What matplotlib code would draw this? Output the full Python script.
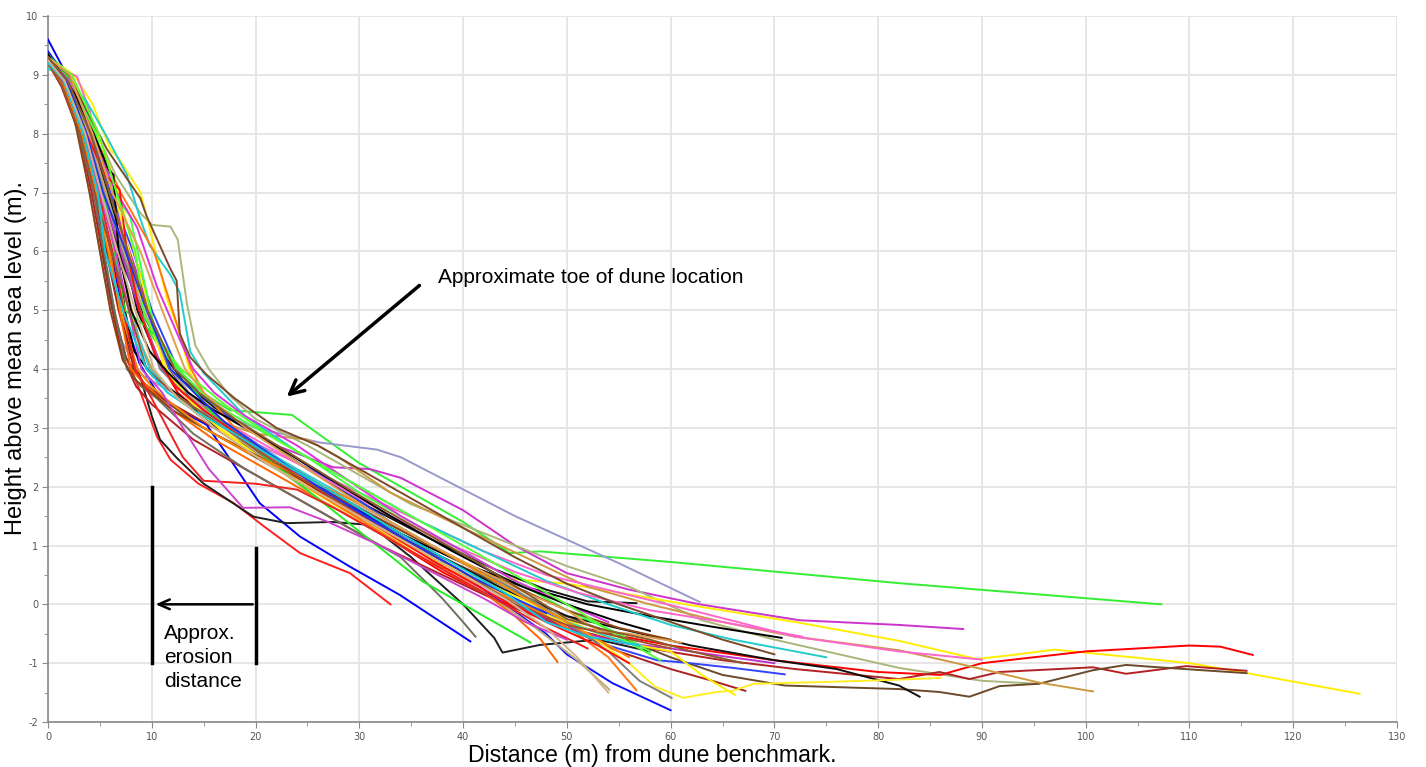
import matplotlib
matplotlib.use("Agg")
import matplotlib.pyplot as plt
from matplotlib.ticker import MultipleLocator

plt.rcParams['axes.unicode_minus'] = False

# ---------------- data: beach profiles (distance m, height m) ----------------
dist_01 = [0, 1.5, 3.2, 4.5, 5.5, 6.5, 7.5, 8.8, 10.5, 12.7, 15.3, 17.8, 20.4, 24.3, 29.1, 33.9, 40.7]
elev_01 = [9.6, 9.1, 8.3, 7.4, 6.5, 5.6, 4.8, 4.1, 3.6, 3.3, 3.05, 2.4, 1.72, 1.15, 0.64, 0.16, -0.63]
dist_02 = [0, 1.5, 3, 4.5, 5.5, 6.5, 7.5, 8.6, 10.5, 11.8, 14.5, 17.9, 21, 24.3, 29.1, 33]
elev_02 = [9.2, 8.8, 8.1, 6.9, 5.8, 4.9, 4.2, 3.75, 2.85, 2.46, 2.05, 1.72, 1.3, 0.87, 0.53, 0.0]
dist_03 = [0, 2, 3.8, 5, 6.3, 7.5, 9, 10, 10.8, 12.4, 15, 19.8, 23, 27.4, 31, 35, 40, 43, 43.8, 47.4, 53, 58]
elev_03 = [9.25, 8.6, 7.6, 6.6, 5.5, 4.6, 3.8, 3.2, 2.8, 2.49, 2.05, 1.49, 1.38, 1.4, 1.35, 0.8, 0.0, -0.57, -0.82, -0.69, -0.6, -0.8]
dist_04 = [0, 1.5, 4, 6, 7.5, 8.5, 9.5, 11, 14, 17.5, 23.5, 30, 34, 40, 44.5, 47.4, 60, 82, 107.3]
elev_04 = [9.35, 9.1, 8.2, 7.2, 6.0, 5.2, 4.7, 4.3, 3.7, 3.3, 3.22, 2.4, 2.0, 1.4, 0.87, 0.9, 0.72, 0.36, 0.0]
dist_05 = [0, 2, 3.2, 4.5, 5.5, 7, 9, 13, 20, 26.2, 31.7, 34, 45, 55, 62.8]
elev_05 = [9.3, 8.6, 7.8, 6.5, 5.5, 4.5, 3.9, 3.5, 3.0, 2.75, 2.63, 2.5, 1.5, 0.7, 0.04]
dist_06 = [0, 2, 4, 6, 7.5, 9, 10.5, 12.5, 15, 18, 22, 27.5, 31, 34, 40, 45, 50, 56, 62.8, 72.4, 82, 88.2]
elev_06 = [9.3, 8.8, 8.0, 7.0, 6.2, 5.4, 4.6, 4.0, 3.5, 3.1, 2.7, 2.33, 2.3, 2.15, 1.6, 1.0, 0.53, 0.25, 0.0, -0.27, -0.35, -0.42]
dist_07 = [0, 2, 4.5, 6.5, 8.9, 10, 11.8, 12.5, 13.4, 14.2, 15.5, 17.5, 20, 25, 30, 35, 40, 45, 50, 56, 63, 70, 82, 90, 95.5]
elev_07 = [9.3, 9.0, 8.1, 7.3, 6.65, 6.45, 6.42, 6.2, 5.1, 4.4, 4.0, 3.55, 3.15, 2.7, 2.2, 1.7, 1.35, 1.0, 0.65, 0.3, -0.27, -0.6, -1.08, -1.3, -1.35]
dist_08 = [0, 2.5, 4.3, 6, 6.9, 8.9, 9.4, 10.5, 11.5, 12.7, 13.7, 15, 17, 20, 25, 30, 35, 40, 50, 55, 62.8, 72, 82, 89.5, 93, 97, 104.5, 110, 114, 126.4]
elev_08 = [9.3, 9.0, 8.5, 7.73, 7.56, 7.0, 6.67, 5.9, 5.17, 4.6, 3.94, 3.5, 3.0, 2.6, 2.1, 1.6, 1.0, 0.5, 0.35, 0.2, -0.04, -0.3, -0.62, -0.93, -0.86, -0.77, -0.9, -1.0, -1.12, -1.52]
dist_09 = [0, 1.8, 3.8, 5.6, 7.2, 8.8, 10.8, 12.5, 15, 18, 22, 28, 33, 38, 43, 48, 54, 60, 70, 80, 86, 90, 100, 110, 113, 116.1]
elev_09 = [9.25, 8.9, 8.0, 7.0, 6.0, 5.0, 4.1, 3.6, 3.2, 2.9, 2.4, 1.7, 1.1, 0.55, 0.1, -0.25, -0.5, -0.7, -0.95, -1.15, -1.2, -1.0, -0.8, -0.7, -0.72, -0.86]
dist_10 = [0, 1.3, 3, 4.2, 5.2, 6.2, 7.2, 8.5, 10, 14, 20, 26, 32, 38, 44, 50, 58, 65, 72, 82, 85.9, 88.8, 91.7, 100.7, 103.9, 109.7, 115.5]
elev_10 = [9.2, 8.8, 8.0, 7.0, 6.0, 5.0, 4.2, 3.7, 3.4, 2.8, 2.2, 1.6, 1.0, 0.5, 0.0, -0.4, -0.75, -0.95, -1.1, -1.27, -1.15, -1.27, -1.15, -1.07, -1.18, -1.05, -1.13]
dist_11 = [0, 2, 3.5, 4.5, 5.3, 6.3, 7.5, 9, 11, 14, 20, 26, 32, 38, 44, 50, 55, 60, 65, 71, 82, 85.9, 88.8, 91.7, 95.5, 100.7, 103.9, 107, 115.5]
elev_11 = [9.2, 8.7, 7.9, 7.0, 6.0, 5.0, 4.2, 3.8, 3.5, 3.1, 2.5, 1.9, 1.3, 0.8, 0.3, -0.2, -0.55, -0.9, -1.2, -1.38, -1.44, -1.49, -1.57, -1.39, -1.35, -1.12, -1.03, -1.07, -1.17]
dist_12 = [0, 2, 4, 5.5, 6.8, 7.8, 8.8, 10, 12, 15, 20, 25, 28, 33, 40, 46, 52, 58, 65, 72, 82, 85.3, 90, 95.5, 100.7]
elev_12 = [9.3, 8.9, 8.0, 7.2, 6.2, 5.2, 4.5, 4.0, 3.6, 3.2, 2.9, 2.8, 2.5, 1.9, 1.3, 0.8, 0.3, 0.0, -0.3, -0.55, -0.78, -0.91, -1.1, -1.33, -1.48]
dist_13 = [0, 2.8, 4, 5, 6.2, 7.4, 8.6, 10, 11.5, 14, 18, 24, 30, 36, 42, 48, 55, 62, 72, 82, 90]
elev_13 = [9.2, 8.97, 8.4, 7.7, 7.0, 6.0, 5.1, 4.4, 3.9, 3.4, 2.9, 2.4, 1.9, 1.4, 0.9, 0.5, 0.2, -0.1, -0.55, -0.8, -0.94]
dist_14 = [0, 2, 4, 5.8, 7.3, 8.6, 10.5, 12.5, 15, 20, 26, 32, 38, 44, 50, 56, 62, 70, 76, 82, 84]
elev_14 = [9.3, 8.8, 8.0, 7.0, 6.0, 5.0, 4.2, 3.7, 3.3, 2.7, 2.0, 1.4, 0.8, 0.25, -0.2, -0.45, -0.7, -0.95, -1.1, -1.38, -1.57]
dist_15 = [0, 2.2, 4.5, 5.8, 6.3, 6.7, 7.4, 8.3, 10, 13, 17, 22, 28, 34, 40, 46, 52, 58, 64, 70.7]
elev_15 = [9.3, 8.7, 7.7, 7.35, 7.3, 6.0, 5.0, 4.3, 3.9, 3.5, 2.9, 2.4, 1.8, 1.2, 0.7, 0.3, 0.0, -0.2, -0.38, -0.57]
dist_16 = [0, 2, 3.8, 5.4, 7.2, 9, 11.3, 13, 16, 20, 25, 31, 37, 43, 48, 52, 56.7]
elev_16 = [9.25, 8.6, 7.7, 6.8, 5.8, 5.0, 4.2, 3.8, 3.35, 2.9, 2.3, 1.65, 1.1, 0.6, 0.25, 0.05, 0.02]
dist_17 = [0, 2, 3.8, 5.5, 7.4, 9.2, 11.6, 13.5, 17, 22, 28, 34, 40, 44, 48, 50, 54.4, 60]
elev_17 = [9.4, 8.9, 8.0, 7.0, 6.0, 5.0, 4.0, 3.6, 3.1, 2.5, 1.8, 1.15, 0.5, 0.0, -0.5, -0.85, -1.34, -1.8]
dist_18 = [0, 2.2, 4.2, 6, 8.2, 10, 12.5, 14.5, 18, 23, 28, 33, 39, 45, 50, 54, 58.7, 61.3, 66, 71]
elev_18 = [9.35, 8.8, 8.0, 7.0, 6.0, 5.0, 4.0, 3.6, 3.1, 2.6, 2.0, 1.4, 0.8, 0.2, -0.35, -0.7, -0.95, -0.99, -1.08, -1.19]
dist_19 = [0, 1.5, 3.7, 5.5, 7.6, 8.8, 9.8, 11.8, 12.7, 13.2, 13.7, 15, 19, 24, 30, 36, 42, 48, 54, 60, 66, 75]
elev_19 = [9.1, 9.0, 8.55, 8.0, 7.3, 6.6, 6.1, 5.6, 5.3, 4.8, 4.3, 3.93, 3.2, 2.6, 2.0, 1.4, 0.9, 0.4, 0.0, -0.35, -0.6, -0.9]
dist_20 = [0, 1.5, 4, 5.5, 7.2, 9.2, 11.8, 14, 17, 21, 27, 33, 39, 45, 51, 58, 65, 72.7]
elev_20 = [9.3, 9.0, 8.0, 7.0, 6.0, 5.0, 4.0, 3.5, 3.1, 2.7, 2.1, 1.5, 1.0, 0.55, 0.2, -0.1, -0.3, -0.55]
dist_21 = [0, 1.8, 3.8, 5.2, 7.0, 8.8, 11.0, 13.5, 17, 21, 27, 33, 39, 45, 50, 55, 60, 65, 70]
elev_21 = [9.25, 8.8, 8.0, 7.0, 6.0, 5.0, 4.0, 3.5, 3.0, 2.5, 1.85, 1.2, 0.6, 0.0, -0.4, -0.65, -0.75, -0.88, -1.0]
dist_22 = [0, 1.5, 3.3, 4.6, 5.6, 6.8, 8.3, 9.5, 12, 16, 21, 27, 33, 39, 45, 50, 55, 60, 64, 67.2]
elev_22 = [9.2, 8.8, 8.0, 7.0, 6.0, 5.0, 4.0, 3.7, 3.4, 3.0, 2.45, 1.85, 1.2, 0.6, 0.05, -0.4, -0.8, -1.1, -1.3, -1.47]
dist_23 = [0, 2, 4.5, 6.4, 7.8, 9.2, 11.5, 13.5, 17, 22, 28, 34, 40, 46, 52, 56, 58.5, 61.2, 64.4, 66, 68, 75, 82, 86]
elev_23 = [9.3, 8.9, 8.0, 7.0, 6.0, 5.0, 4.0, 3.5, 2.9, 2.3, 1.65, 1.05, 0.5, 0.0, -0.5, -1.0, -1.4, -1.59, -1.49, -1.47, -1.35, -1.32, -1.28, -1.25]
dist_24 = [0, 2.2, 4.8, 6.8, 8.3, 9.8, 11.2, 13, 15, 20, 26, 32, 38, 43, 48, 53, 57, 60, 63, 66.2]
elev_24 = [9.3, 9.0, 8.0, 7.0, 6.0, 5.0, 4.0, 3.6, 3.2, 2.55, 1.9, 1.3, 0.7, 0.3, -0.1, -0.5, -0.7, -0.8, -1.2, -1.54]
dist_25 = [0, 1.6, 3.5, 4.9, 6, 6.9, 8, 9, 12, 16, 21, 27, 33, 38, 42, 45, 47.5, 49.1]
elev_25 = [9.2, 8.9, 8.0, 7.0, 6.0, 5.0, 4.0, 3.8, 3.3, 2.8, 2.3, 1.7, 1.1, 0.6, 0.2, -0.2, -0.6, -0.98]
dist_26 = [0, 2, 4.4, 7, 10.2, 12, 13.8, 15, 18, 24, 30, 36, 42, 47, 51, 54, 56.7]
elev_26 = [9.25, 9.0, 8.0, 7.0, 6.0, 5.0, 4.0, 3.6, 3.0, 2.1, 1.45, 0.8, 0.3, -0.1, -0.5, -0.9, -1.46]
dist_27 = [0, 1.7, 3.6, 5.4, 7.2, 8.9, 10.8, 13, 17, 21, 27, 33, 39, 45, 50, 54, 57, 60.1]
elev_27 = [9.3, 8.9, 8.0, 7.0, 6.0, 5.0, 4.0, 3.6, 3.1, 2.6, 1.95, 1.35, 0.8, 0.25, -0.3, -0.8, -1.3, -1.59]
dist_28 = [0, 1.9, 3.9, 5.6, 7.3, 9.2, 11.8, 14, 17, 21, 26, 32, 38, 43, 47, 51, 54.1]
elev_28 = [9.25, 8.9, 8.0, 7.0, 6.0, 5.0, 4.0, 3.5, 3.0, 2.45, 1.8, 1.2, 0.6, 0.1, -0.4, -0.95, -1.45]
dist_29 = [0, 1.4, 3, 4.4, 5.4, 6.4, 7.6, 9, 10.5, 14, 19, 25, 30, 34, 38, 40, 41.2]
elev_29 = [9.2, 8.8, 8.0, 7.0, 6.0, 5.0, 4.0, 3.7, 3.5, 2.9, 2.3, 1.7, 1.2, 0.8, 0.1, -0.3, -0.55]
dist_30 = [0, 1.7, 3.7, 5.3, 6.4, 7.4, 8.9, 10.8, 13, 16, 21, 26, 31, 36, 41, 44, 46.5]
elev_30 = [9.35, 9.0, 8.0, 7.0, 6.0, 5.0, 4.8, 4.5, 3.9, 3.2, 2.5, 1.8, 1.1, 0.4, -0.1, -0.4, -0.65]
dist_31 = [0, 2, 4.6, 6.3, 7.9, 9.5, 10.5, 12.5, 16, 20, 25, 30, 35, 40, 45, 50, 55, 58]
elev_31 = [9.3, 9.0, 8.0, 7.0, 6.6, 5.3, 4.5, 4.0, 3.4, 3.0, 2.5, 1.9, 1.4, 0.9, 0.4, -0.1, -0.5, -0.8]
dist_32 = [0, 1.5, 3.4, 4.8, 6.2, 7.8, 9.8, 12, 14.5, 18, 23, 29, 35, 41, 46, 50, 54, 57]
elev_32 = [9.25, 8.9, 8.0, 7.0, 6.0, 5.0, 4.0, 3.6, 3.3, 2.95, 2.4, 1.8, 1.2, 0.6, 0.1, -0.3, -0.55, -0.7]
dist_33 = [0, 1.2, 2.6, 4.0, 5.0, 6.0, 7.2, 8.5, 10, 12, 16, 21, 27, 33, 39, 45, 50, 55, 60]
elev_33 = [9.2, 8.9, 8.2, 7.0, 6.0, 5.0, 4.15, 3.8, 3.6, 3.3, 2.9, 2.45, 1.9, 1.35, 0.8, 0.3, -0.1, -0.4, -0.6]
dist_34 = [0, 2, 4, 5.7, 8.9, 9.5, 11.8, 12.4, 12.7, 13.7, 15.3, 18, 22, 26, 30, 35, 40, 45, 50, 55, 60, 65, 70]
elev_34 = [9.3, 9.0, 8.3, 7.73, 6.9, 6.6, 5.7, 5.5, 4.6, 4.2, 3.9, 3.5, 3.0, 2.7, 2.3, 1.8, 1.3, 0.8, 0.35, 0.0, -0.3, -0.6, -0.85]
dist_35 = [0, 2, 4.3, 6.3, 8.6, 10.5, 12.7, 14, 16, 19, 24, 29, 34, 40, 45, 50, 54]
elev_35 = [9.3, 8.9, 8.0, 7.1, 6.4, 5.4, 4.5, 4.0, 3.6, 3.2, 2.7, 2.1, 1.5, 0.9, 0.4, 0.0, -0.3]
dist_36 = [0, 2, 3.7, 5.5, 6.9, 7.2, 7.6, 8.8, 10.4, 12.3, 15, 19, 25, 31, 37, 43, 48, 53, 56]
elev_36 = [9.3, 8.8, 8.0, 7.3, 7.05, 6.6, 6.0, 5.0, 4.2, 3.7, 3.3, 2.8, 2.1, 1.4, 0.75, 0.15, -0.3, -0.7, -1.0]
dist_37 = [0, 1.5, 3.2, 4.6, 5.8, 7, 8.6, 10, 12, 15, 19, 24, 29, 35, 41, 47, 52, 56]
elev_37 = [9.2, 8.8, 8.0, 7.0, 6.0, 5.0, 4.0, 3.7, 3.4, 3.0, 2.6, 2.2, 1.8, 1.2, 0.6, 0.0, -0.5, -0.9]
dist_38 = [0, 1.7, 3.5, 4.9, 6.2, 7.3, 8.4, 10, 13, 15, 20, 24, 28, 33, 38, 43, 48, 52]
elev_38 = [9.25, 8.9, 8.0, 7.0, 6.0, 5.0, 4.0, 3.5, 2.5, 2.1, 2.05, 1.95, 1.6, 1.1, 0.6, 0.1, -0.4, -0.75]
dist_39 = [0, 1.8, 3.6, 5, 6.5, 7.8, 9, 11, 13, 15.5, 18.8, 23.3, 27, 32, 37, 42, 46, 50]
elev_39 = [9.2, 8.9, 8.0, 7.0, 6.0, 5.0, 4.0, 3.6, 3.0, 2.3, 1.64, 1.65, 1.4, 1.0, 0.55, 0.1, -0.3, -0.6]
dist_40 = [0, 2.5, 4.4, 5.8, 6.3, 6.8, 8.0, 9.8, 11.5, 13.5, 16, 21, 27, 33, 39, 45, 50, 55, 58]
elev_40 = [9.35, 8.7, 8.0, 7.4, 7.3, 6.0, 5.0, 4.3, 3.95, 3.6, 3.3, 2.8, 2.15, 1.5, 0.9, 0.35, 0.0, -0.3, -0.45]
dist_41 = [0, 2.3, 4.9, 6.6, 8.4, 9.3, 10.6, 12.8, 17, 22, 28, 34, 40, 46, 51, 55, 59]
elev_41 = [9.3, 9.0, 8.0, 7.0, 6.0, 4.9, 4.5, 4.0, 3.4, 2.8, 2.2, 1.6, 1.0, 0.4, -0.1, -0.55, -0.95]
dist_42 = [0, 1.4, 3.1, 4.5, 6.1, 7.8, 9.5, 12, 17, 22, 28, 34, 40, 45, 50, 55, 60]
elev_42 = [9.2, 8.8, 8.0, 7.0, 6.0, 5.0, 4.0, 3.6, 3.0, 2.4, 1.75, 1.15, 0.55, 0.0, -0.35, -0.55, -0.75]
dist_43 = [0, 1.8, 3.7, 5.3, 7.5, 9.5, 11.8, 13.5, 17, 21, 26, 31, 36, 41, 45, 48]
elev_43 = [9.3, 8.9, 8.0, 7.0, 6.0, 5.0, 4.0, 3.7, 3.1, 2.6, 2.0, 1.45, 0.95, 0.45, 0.1, -0.15]
dist_44 = [0, 1.6, 3.4, 4.8, 5.5, 7.2, 9.5, 11.5, 14, 18, 23, 28, 33, 39, 44, 48, 52, 57]
elev_44 = [9.2, 8.9, 8.0, 7.0, 6.0, 5.0, 4.0, 3.6, 3.3, 2.9, 2.35, 1.85, 1.3, 0.7, 0.2, -0.3, -0.55, -0.7]
dist_45 = [0, 2.1, 4.3, 6.2, 8.9, 11, 13.2, 15, 19, 25, 31, 37, 42, 46, 50, 53, 56, 61]
elev_45 = [9.3, 9.0, 8.0, 7.0, 6.0, 5.0, 4.0, 3.6, 3.0, 2.3, 1.6, 1.0, 0.55, 0.2, -0.1, -0.45, -0.5, -0.65]
dist_46 = [0, 1.6, 3.6, 5.1, 6.7, 8.4, 10.2, 12.5, 16, 21, 27, 33, 39, 44, 48, 51, 54]
elev_46 = [9.25, 8.9, 8.0, 7.0, 6.0, 5.0, 4.0, 3.5, 3.0, 2.4, 1.8, 1.2, 0.6, 0.1, -0.4, -0.9, -1.5]
dist_47 = [0, 1.9, 4.1, 5.9, 7.7, 9.6, 12.2, 14.5, 18, 23, 29, 35, 41, 46, 50, 54, 58, 62, 67]
elev_47 = [9.3, 8.9, 8.0, 7.0, 6.0, 5.0, 4.0, 3.6, 3.15, 2.6, 1.95, 1.35, 0.75, 0.2, -0.25, -0.45, -0.6, -0.8, -1.0]

colors = ['#0000FF', '#FF2020', '#202020', '#33EE33', '#9999CC', '#CC33CC', '#AAB77A',
          '#FFEE00', '#FF0000', '#B22222', '#6B4A2B', '#CC9944', '#FF66CC', '#101010',
          '#000000', '#151515', '#1010FF', '#3344FF', '#22CCCC', '#FF66CC', '#BB33CC',
          '#AA2222', '#FFEE22', '#FFF000', '#FF6600', '#FF7711', '#808080', '#BBAA77',
          '#707060', '#22EE22', '#44FF44', '#33CCCC', '#8B4513', '#7A4A2A', '#DD33DD',
          '#FF1010', '#FF8800', '#EE2222', '#CC44CC', '#000000', '#55FF33', '#A0522D',
          '#2233EE', '#11CCDD', '#E0A050', '#D2B48C', '#8B5A2B']

profiles = [
    (dist_01, elev_01), (dist_02, elev_02), (dist_03, elev_03), (dist_04, elev_04),
    (dist_05, elev_05), (dist_06, elev_06), (dist_07, elev_07), (dist_08, elev_08),
    (dist_09, elev_09), (dist_10, elev_10), (dist_11, elev_11), (dist_12, elev_12),
    (dist_13, elev_13), (dist_14, elev_14), (dist_15, elev_15), (dist_16, elev_16),
    (dist_17, elev_17), (dist_18, elev_18), (dist_19, elev_19), (dist_20, elev_20),
    (dist_21, elev_21), (dist_22, elev_22), (dist_23, elev_23), (dist_24, elev_24),
    (dist_25, elev_25), (dist_26, elev_26), (dist_27, elev_27), (dist_28, elev_28),
    (dist_29, elev_29), (dist_30, elev_30), (dist_31, elev_31), (dist_32, elev_32),
    (dist_33, elev_33), (dist_34, elev_34), (dist_35, elev_35), (dist_36, elev_36),
    (dist_37, elev_37), (dist_38, elev_38), (dist_39, elev_39), (dist_40, elev_40),
    (dist_41, elev_41), (dist_42, elev_42), (dist_43, elev_43), (dist_44, elev_44),
    (dist_45, elev_45), (dist_46, elev_46), (dist_47, elev_47),
]

x_label = "Distance (m) from dune benchmark."
y_label = "Height above mean sea level (m)."
toe_text = "Approximate toe of dune location"
erosion_text = "Approx.\nerosion\ndistance"

# ---------------- figure ----------------
fig = plt.figure(figsize=(14.26, 7.67), dpi=100)
ax = fig.add_axes([48 / 1426, 45 / 767, (1397 - 48) / 1426, (722 - 16) / 767])

for (xs, ys), c in zip(profiles, colors):
    ax.plot(xs, ys, color=c, lw=1.4, solid_joinstyle='round', zorder=3)

ax.set_xlim(0, 130)
ax.set_ylim(-2, 10)
ax.xaxis.set_major_locator(MultipleLocator(10))
ax.xaxis.set_minor_locator(MultipleLocator(5))
ax.yaxis.set_major_locator(MultipleLocator(1))
ax.yaxis.set_minor_locator(MultipleLocator(0.5))
ax.grid(True, which='major', color='#e4e4e4', lw=1.3, zorder=0)
ax.set_axisbelow(True)

for s in ['top', 'right']:
    ax.spines[s].set_visible(False)
for s in ['left', 'bottom']:
    ax.spines[s].set_color('#888888')
    ax.spines[s].set_linewidth(1.2)

ax.tick_params(which='major', length=4, color='#888888', labelsize=7, labelcolor='#555555', pad=3)
ax.tick_params(which='minor', length=3, color='#888888')

ax.set_xlabel(x_label, fontsize=16.7, family='Liberation Sans')
ax.xaxis.set_label_coords((652 - 48) / 1349, -0.031, transform=ax.transAxes)
ax.xaxis.label.set_va('top')
ax.set_ylabel(y_label, fontsize=17, family='Liberation Sans')
ax.yaxis.set_label_coords((16 - 48) / 1349, (722 - 358) / 706, transform=ax.transAxes)
ax.yaxis.label.set_va('center')

# annotations
ax.annotate('', xy=(22.8, 3.5), xytext=(36, 5.45),
            arrowprops=dict(arrowstyle='->,head_length=1.0,head_width=0.5', lw=2.5, color='black'), zorder=5)
ax.text(37.6, 5.55, toe_text, fontsize=15, family='Liberation Sans', va='center', ha='left', zorder=5)

ax.plot([10, 10], [2.0, -1.0], color='black', lw=2.5, zorder=5)
ax.plot([20, 20], [0.95, -1.0], color='black', lw=2.5, zorder=5)
ax.annotate('', xy=(10.1, 0.0), xytext=(20, 0.0),
            arrowprops=dict(arrowstyle='->,head_length=0.8,head_width=0.35', lw=1.8, color='black'), zorder=5)
ax.text(11.2, -0.33, erosion_text, fontsize=15, family='Liberation Sans', va='top', ha='left',
        linespacing=1.34, zorder=5)

fig.savefig('out.png', dpi=100)
